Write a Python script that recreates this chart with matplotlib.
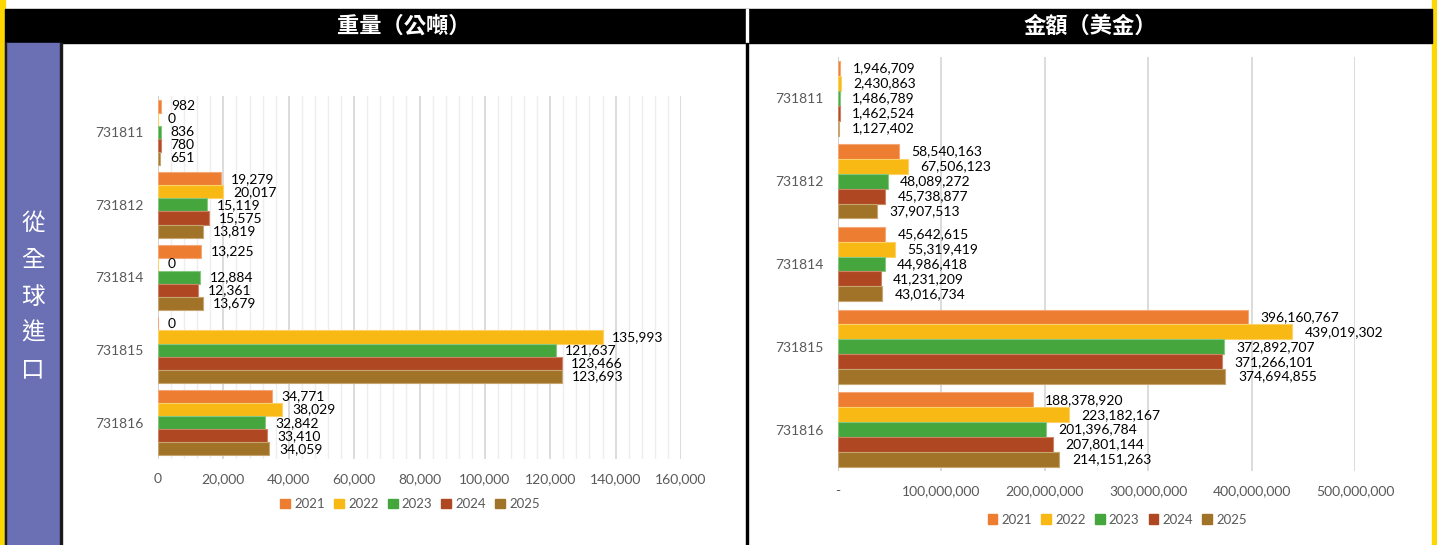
import matplotlib
matplotlib.use("Agg")
import matplotlib.pyplot as plt
from matplotlib.patches import Rectangle, Patch
from matplotlib.ticker import FuncFormatter, MultipleLocator
import numpy as np

plt.rcParams['font.family'] = ['Lato', 'Noto Sans CJK TC', 'DejaVu Sans']

# ---- data ----
categories = ['731811', '731812', '731814', '731815', '731816']
years = ['2021', '2022', '2023', '2024', '2025']
colors = ['#ED7D31', '#F9B914', '#45A63D', '#AE4722', '#A07328']
edge_colors = ['#F4A878', '#FBD268', '#86C880', '#CC8366', '#C6A570']

weight = {
    '2021': [982, 19279, 13225, 0, 34771],
    '2022': [0, 20017, 0, 135993, 38029],
    '2023': [836, 15119, 12884, 121637, 32842],
    '2024': [780, 15575, 12361, 123466, 33410],
    '2025': [651, 13819, 13679, 123693, 34059],
}
amount = {
    '2021': [1946709, 58540163, 45642615, 396160767, 188378920],
    '2022': [2430863, 67506123, 55319419, 439019302, 223182167],
    '2023': [1486789, 48089272, 44986418, 372892707, 201396784],
    '2024': [1462524, 45738877, 41231209, 371266101, 207801144],
    '2025': [1127402, 37907513, 43016734, 374694855, 214151263],
}

title_weight = '重量（公噸）'
title_amount = '金額（美金）'
side_label = '從全球進口'

W, H = 1437, 545


def px_rect(x0, y0, x1, y1):
    return [x0 / W, 1 - y1 / H, (x1 - x0) / W, (y1 - y0) / H]


fig = plt.figure(figsize=(W / 100, H / 100), dpi=100)

# ---- background frame ----
bg = fig.add_axes([0, 0, 1, 1], zorder=-1)
bg.set_xlim(0, W)
bg.set_ylim(H, 0)
bg.axis('off')
bg.add_patch(Rectangle((0, 0), 5, H, color='#FFD700'))
bg.add_patch(Rectangle((1432, 0), 5, H, color='#FFD700'))
bg.add_patch(Rectangle((5, 9), 1427, 34, color='black'))
bg.add_patch(Rectangle((5, 43), 56, H - 43, color='#6B70B4'))
bg.add_patch(Rectangle((60, 43), 2, H - 43, color='#1a1a1a'))
bg.add_patch(Rectangle((5, 43), 1, H - 43, color='#1a1a1a'))
bg.add_patch(Rectangle((746, 9), 2, 34, color='white'))
bg.add_patch(Rectangle((746, 43), 2, H - 43, color='black'))

fig.text(404 / W, 1 - 26 / H, title_weight, color='white', fontsize=16,
         fontweight='bold', ha='center', va='center', family=['Noto Sans CJK TC'])
fig.text(1090 / W, 1 - 26 / H, title_amount, color='white', fontsize=16,
         fontweight='bold', ha='center', va='center', family=['Noto Sans CJK TC'])
fig.text(33 / W, 1 - 297 / H, '\n'.join(side_label), color='white', fontsize=17,
         ha='center', va='center', linespacing=1.75, family=['Noto Sans CJK TC'])


def draw_panel(ax, data, xmax, major, minor, fmt_tick, label_off, leg_pos):
    y = np.arange(len(categories))
    h = 0.18
    for j, yr in enumerate(years):
        vals = data[yr]
        pos = y + (j - 2) * h
        ax.barh(pos, vals, height=h, color=colors[j], edgecolor=edge_colors[j],
                linewidth=0.8, label=yr, zorder=3)
        for p, v in zip(pos, vals):
            ax.annotate(f'{v:,}', (v, p), xytext=(label_off, 0),
                        textcoords='offset points', ha='left', va='center',
                        fontsize=10, color='black', annotation_clip=False)
    ax.set_xlim(0, xmax)
    ax.set_ylim(len(categories) - 0.5, -0.5)
    ax.set_yticks(y)
    ax.set_yticklabels(categories)
    ax.xaxis.set_major_locator(MultipleLocator(major))
    ax.xaxis.set_major_formatter(FuncFormatter(fmt_tick))
    ax.grid(axis='x', which='major', color='#d9d9d9', linewidth=1.3, zorder=0)
    if minor:
        ax.xaxis.set_minor_locator(MultipleLocator(minor))
        ax.grid(axis='x', which='minor', color='#eeeeee', linewidth=1, zorder=0)
    ax.axvline(0, color='#d0d0d0', linewidth=1.3, zorder=2)
    for s in ax.spines.values():
        s.set_visible(False)
    ax.tick_params(axis='both', which='both', length=0, labelsize=10,
                   labelcolor='#595959')
    ax.tick_params(axis='x', pad=10)
    ax.tick_params(axis='y', pad=10)
    ax.set_facecolor('none')
    handles = [Patch(color=c, label=yr) for c, yr in zip(colors, years)]
    leg = ax.legend(handles=handles, loc='center', bbox_to_anchor=leg_pos, ncol=5,
                    frameon=False, handlelength=0.75, handleheight=0.75,
                    handletextpad=0.3, columnspacing=0.7, fontsize=9.5)
    for t in leg.get_texts():
        t.set_color('#595959')


ax1 = fig.add_axes(px_rect(158, 96, 681, 459))
draw_panel(ax1, weight, 160000, 20000, 4000,
           lambda v, p: f'{int(v):,}', 7, (0.482, -0.124))

ax2 = fig.add_axes(px_rect(838, 57, 1355, 471))
draw_panel(ax2, amount, 500000000, 100000000, None,
           lambda v, p: '-' if v == 0 else f'{int(v):,}', 9, (0.54, -0.118))

fig.savefig('out.png', dpi=100)
